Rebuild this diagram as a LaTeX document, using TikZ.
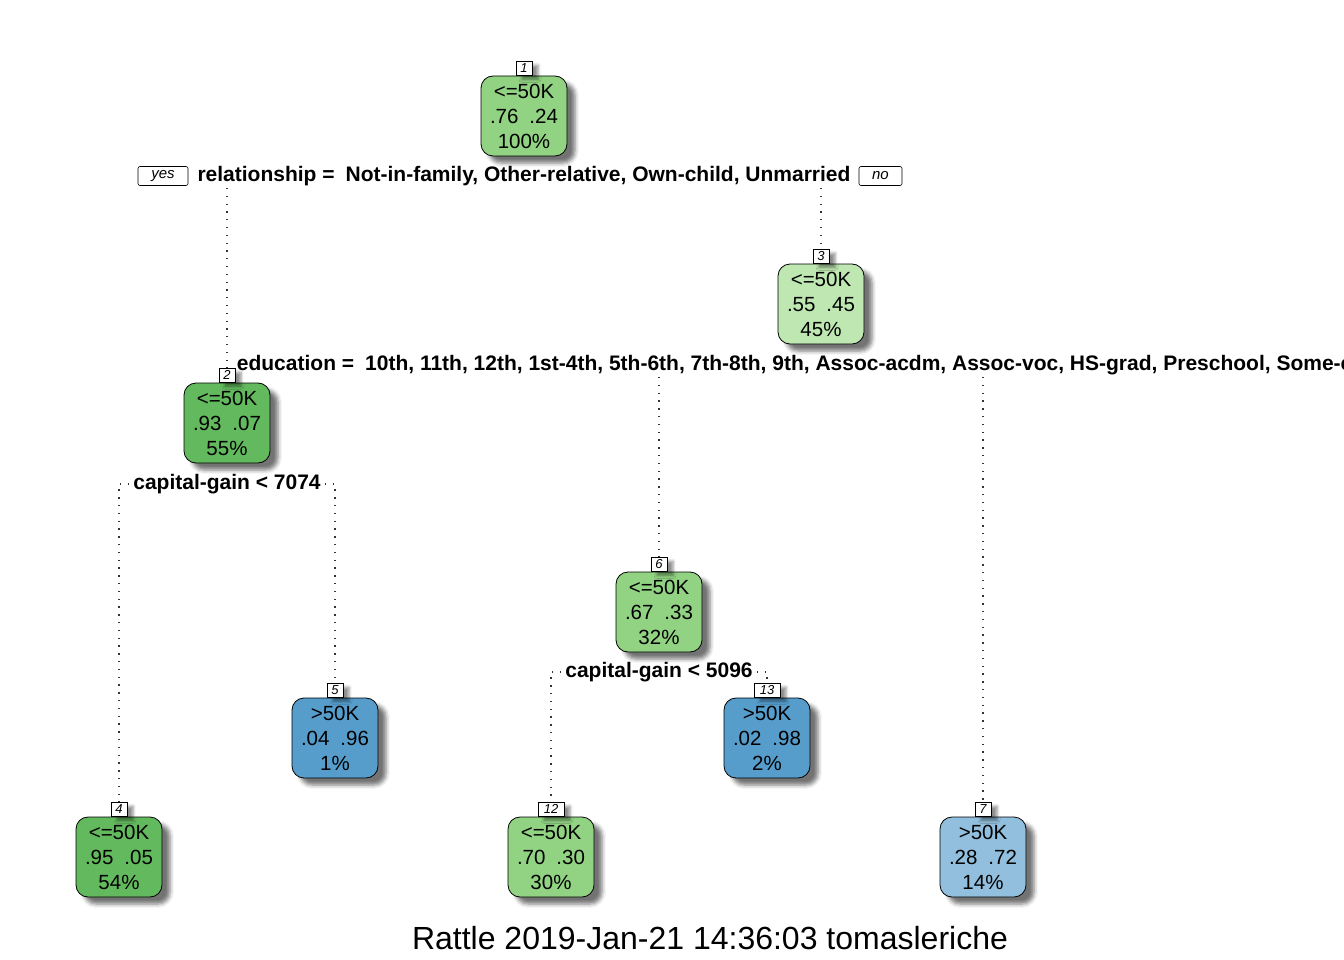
\documentclass[tikz,border=0pt]{standalone}
\usepackage{fontspec}
\setmainfont{Liberation Sans}
\usepackage{xcolor}
\usetikzlibrary{positioning,shadows.blur}
\definecolor{greendark}{RGB}{99,185,94}
\definecolor{greenmid}{RGB}{145,211,131}
\definecolor{greenlight}{RGB}{190,231,178}
\definecolor{bluedark}{RGB}{86,157,204}
\definecolor{bluelight}{RGB}{145,191,221}

\begin{document}
\begin{tikzpicture}
    [x=1pt,y=-1pt,
    leaf/.style = {draw=black, line width=0.8pt, rounded corners=12pt,
                   minimum width=86pt, minimum height=80pt, inner sep=0pt,
                   align=center, font=\fontsize{20.5}{25}\selectfont,
                   blur shadow={shadow xshift=8pt, shadow yshift=-7pt,
                                shadow blur radius=4pt, shadow opacity=55}},
    num/.style = {draw=black, fill=white, line width=0.6pt, inner sep=0pt,
                  minimum height=14pt, minimum width=16pt,
                  font=\fontsize{13}{13}\selectfont\itshape,
                  blur shadow={shadow xshift=6pt, shadow yshift=-4pt,
                               shadow blur radius=3pt, shadow opacity=45}},
    split/.style = {inner xsep=4pt, inner ysep=2pt,
                    font=\fontsize{21}{21}\selectfont\bfseries},
    answer/.style = {draw=black, line width=0.6pt, rounded corners=2pt,
                     minimum width=50pt, minimum height=19pt, inner sep=0pt,
                     font=\fontsize{15}{15}\selectfont\itshape},
    branch/.style = {line width=1.4pt, draw=black!80, dash pattern=on 1.3pt off 6.5pt}]
    \useasboundingbox (0,0) rectangle (1344,960);
    \clip (0,0) rectangle (1344,960);
    % Root
    \node[leaf,fill=greenmid] (n1) at (524,116) {<=50K\\.76\hspace{11pt}.24\\100\%};
    \node[num,above=0pt of n1] (l1) {1};
    \node[split] (s1) at (524,176) {relationship =\hspace{11pt}Not-in-family, Other-relative, Own-child, Unmarried};
    \node[answer,left=5pt of s1] (yes) {yes};
    \node[answer,minimum width=43pt,right=4pt of s1] (no) {no};
    % Node 2
    \node[leaf,fill=greendark] (n2) at (227,423) {<=50K\\.93\hspace{11pt}.07\\55\%};
    \node[num,above=0pt of n2] (l2) {2};
    \node[split] (s2) at (227,484) {capital-gain < 7074};
    % Node 3
    \node[leaf,fill=greenlight] (n3) at (821,304) {<=50K\\.55\hspace{11pt}.45\\45\%};
    \node[num,above=0pt of n3] (l3) {3};
    \node[split,xshift=4pt] (s3) at (821,365) {education =\hspace{11pt}10th, 11th, 12th, 1st-4th, 5th-6th, 7th-8th, 9th, Assoc-acdm, Assoc-voc, HS-grad, Preschool, Some-college};
    % Node 6
    \node[leaf,fill=greenmid] (n6) at (659,612) {<=50K\\.67\hspace{11pt}.33\\32\%};
    \node[num,above=0pt of n6] (l6) {6};
    \node[split] (s6) at (659,672) {capital-gain < 5096};
    % Leaves
    \node[leaf,fill=bluedark] (n5) at (335,738) {>50K\\.04\hspace{11pt}.96\\1\%};
    \node[num,above=0pt of n5] (l5) {5};
    \node[leaf,fill=bluedark] (n13) at (767,738) {>50K\\.02\hspace{11pt}.98\\2\%};
    \node[num,minimum width=26pt,above=0pt of n13] (l13) {13};
    \node[leaf,fill=greendark] (n4) at (119,857) {<=50K\\.95\hspace{11pt}.05\\54\%};
    \node[num,above=0pt of n4] (l4) {4};
    \node[leaf,fill=greenmid] (n12) at (551,857) {<=50K\\.70\hspace{11pt}.30\\30\%};
    \node[num,minimum width=26pt,above=0pt of n12] (l12) {12};
    \node[leaf,fill=bluelight] (n7) at (983,857) {>50K\\.28\hspace{11pt}.72\\14\%};
    \node[num,above=0pt of n7] (l7) {7};
    % Branches
    \draw[branch] (s1.south -| l2.north) -- (l2.north);
    \draw[branch] (s1.south -| l3.north) -- (l3.north);
    \draw[branch] (s3.south -| l6.north) -- (l6.north);
    \draw[branch] (s3.south -| l7.north) -- (l7.north);
    \draw[branch] (s2.west) -- (s2.west -| l4.north) -- (l4.north);
    \draw[branch] (s2.east) -- (s2.east -| l5.north) -- (l5.north);
    \draw[branch] (s6.west) -- (s6.west -| l12.north) -- (l12.north);
    \draw[branch] (s6.east) -- (s6.east -| l13.north) -- (l13.north);
    % Title
    \node[font=\fontsize{32}{32}\selectfont] (title) at (710,938) {Rattle 2019-Jan-21 14:36:03 tomasleriche};
\end{tikzpicture}
\end{document}
